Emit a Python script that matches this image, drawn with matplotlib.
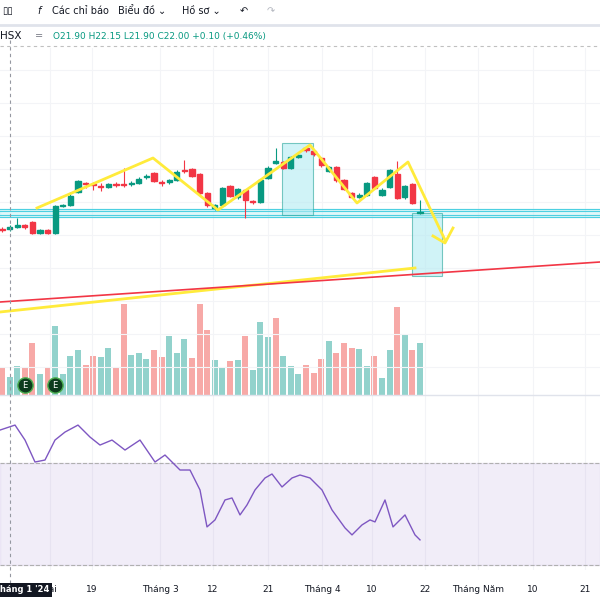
import matplotlib
matplotlib.use("Agg")
import matplotlib.pyplot as plt
from matplotlib.patches import Rectangle
import numpy as np

# candles: open, close, high, low (price)
def P(y): return round(22 + (213 - y) / 25, 2)
cand_px = [(229,230,227,232),(229,227,225,231),(227,225,218,228),(225,227,224,229),(222,233,221,234),
 (233,230,229,234),(230,233,229,234),(233,206,205,234),(206,205,204,207),(205,196,192,206),
 (192,181,180,193),(183,184,182,188),(184,185,182,190),(187,187,183,191),(187,184,183,188),
 (184,185,182,187),(184,185,168,187),(184,183,181,186),(183,179,177,184),(177,176,174,179),
 (173,181,172,182),(182,183,180,186),(182,180,179,184),(180,172,170,181),(171,171,160,173),
 (169,176,168,177),(174,193,173,194),(193,205,192,207),(208,205,204,210),(205,188,187,206),
 (186,196,185,197),(197,189,188,199),(190,200,189,218),(202,202,200,204),(202,180,179,203),
 (178,168,166,179),(163,161,148,164),(162,168,161,169),(168,157,156,169),(157,155,154,158),
 (148,150,147,152),(151,154,150,156),(158,165,157,167),(171,167,166,172),(167,180,166,182),
 (180,189,179,190),(193,197,192,198),(197,195,193,198),(195,183,182,196),(177,188,176,189),
 (195,190,188,196),(187,170,169,188),(174,198,161,199),(197,186,185,199),(184,203,183,204),
 (213,212,200,214)]
opens = [P(c[0]) for c in cand_px]; closes = [P(c[1]) for c in cand_px]
highs = [P(c[2]) for c in cand_px]; lows = [P(c[3]) for c in cand_px]

vol_top = [367,376,365,367,342,373,367,325,373,355,349,364,355,356,347,366,303,354,352,358,349,356,335,352,
 338,357,303,329,359,366,360,359,335,369,321,336,317,355,365,373,364,372,358,340,352,342,347,348,365,355,
 377,349,306,333,349,342]
volumes = [394 - t for t in vol_top]
vol_up = "rggrrgrggggrrggrrgggrrgggrrrggrgrgggrgggrrrgrrrggrggrgrg"

STEP = 7.6
rsi_px = [(0,430),(15,425),(25,440),(35,462),(45,460),(55,440),(65,432),(78,425),(90,437),(100,445),(112,440),
 (125,450),(140,440),(155,462),(165,455),(180,470),(190,470),(200,490),(207,527),(215,520),(225,500),(232,498),
 (240,515),(247,505),(255,490),(265,478),(272,474),(282,487),(292,478),(300,475),(310,478),(322,490),(332,510),
 (345,528),(352,535),(362,525),(370,520),(375,522),(385,500),(393,527),(405,515),(415,535),(420,540)]
rsi_x = [(p[0]-2)/STEP for p in rsi_px]; rsi_v = [70 - (p[1]-463)*0.392 for p in rsi_px]

yellow_pts = [(37,208),(153,158),(218,210),(310,145),(357,203),(408,162),(445,240)]
arrow_pts = [(433,236),(445,243),(453,228)]
yellow2 = [(0,312),(415,268)]
red_line = [(0,302),(600,262)]
tick_px = [(50,"Hai"),(92,"19"),(160,"Tháng 3"),(213,"12"),(268,"21"),(322,"Tháng 4"),(372,"10"),
 (425,"22"),(478,"Tháng Năm"),(533,"10"),(585,"21")]

X = lambda px: (px-2)/STEP
fig = plt.figure(figsize=(6,6), dpi=100)
W, H = 600, 600
def rect(top, bot): return [0, 1-bot/H, 1, (bot-top)/H]
ax = fig.add_axes(rect(48,395))
axv = ax.twinx()
axr = fig.add_axes(rect(395,570))
for a in (ax, axv, axr):
    a.set_xlim(X(0), X(600))
    a.axis("off")
ax.set_ylim(P(395), P(48))
axv.set_ylim(0, 347)
axr.set_ylim(28, 96.7)
green, red = "#089981", "#f23645"
for px, _ in tick_px:
    for a in (ax, axr): a.axvline(X(px), color="#f3f4f7", lw=0.8, zorder=0)
for yy in range(70, 395, 33):
    ax.axhline(P(yy), color="#f3f4f7", lw=0.8, zorder=0)
# volume
for i, v in enumerate(volumes):
    c = "#92d2cc" if vol_up[i] == "g" else "#f7a9a7"
    axv.bar(i, v, width=0.8, color=c, zorder=1)
axv.set_zorder(0); ax.set_zorder(1); ax.patch.set_visible(False)
# candles
for i in range(len(opens)):
    c = green if closes[i] > opens[i] else red
    ax.vlines(i, lows[i], highs[i], color=c, lw=0.8, zorder=3)
    lo, hi = min(opens[i], closes[i]), max(opens[i], closes[i])
    ax.add_patch(Rectangle((i-0.35, lo), 0.7, max(hi-lo, 0.04), color=c, zorder=3))
# zones
ax.axhspan(P(217), P(209), color="#b2ebf2", alpha=0.4, zorder=2)
for yy in (209, 211, 215, 217):
    ax.axhline(P(yy), color="#4dd0e1", lw=0.8, zorder=2)
for (x0,y0,x1,y1) in [(282,143,313,215),(412,213,442,276)]:
    ax.add_patch(Rectangle((X(x0), P(y1)), X(x1)-X(x0), P(y0)-P(y1), facecolor="#b2ebf2", alpha=0.6,
                           edgecolor="#26a69a", lw=0.8, zorder=2))
ax.plot([X(p[0]) for p in yellow_pts], [P(p[1]) for p in yellow_pts], color="#ffeb3b", lw=2, zorder=4)
ax.plot([X(p[0]) for p in arrow_pts], [P(p[1]) for p in arrow_pts], color="#ffeb3b", lw=2, zorder=4)
ax.plot([X(p[0]) for p in yellow2], [P(p[1]) for p in yellow2], color="#ffeb3b", lw=2, zorder=4)
ax.plot([X(p[0]) for p in red_line], [P(p[1]) for p in red_line], color="#f23645", lw=1.2, zorder=4)
# earnings markers
for px in (25, 55):
    ax.plot(X(px), P(385), "o", ms=11, mfc="#0d3b1e", mec="#4caf50", zorder=5)
    ax.text(X(px), P(385), "E", color="white", fontsize=6, ha="center", va="center", zorder=6)
# RSI
axr.axhspan(30, 70, color="#7e57c2", alpha=0.1)
for v in (30, 70): axr.axhline(v, color="#b0b0b0", lw=0.8, ls="--")
axr.plot(rsi_x, rsi_v, color="#7e57c2", lw=1)
fig.add_artist(plt.Line2D([0,1],[1-395/H]*2, color="#e0e3eb", lw=1))
fig.add_artist(plt.Line2D([10/W]*2,[1-590/H,1-40/H], color="#9598a1", lw=0.8, ls=(0,(3,3))))
fig.add_artist(plt.Line2D([0,1],[1-46/H]*2, color="#c0c0c0", lw=0.8, ls=(0,(3,3))))
# toolbar
fig.add_artist(plt.Line2D([0,1],[1-25/H]*2, color="#e0e3eb", lw=2))
fs = 7
for x, t in [(2,"▯▯"),(37,"f"),(52,"Các chỉ báo"),(118,"Biểu đồ ⌄"),(182,"Hồ sơ ⌄"),(240,"↶"),(267,"↷")]:
    fig.text(x/W, 1-11/H, t, fontsize=fs, color="#131722" if t!="↷" else "#b2b5be", va="center",
             style="italic" if t=="f" else "normal")
fig.text(0, 1-36/H, "HSX", fontsize=fs+0.5, va="center", color="#131722")
fig.text(35/W, 1-36/H, "=", fontsize=fs, va="center", color="#787b86")
fig.text(53/W, 1-36/H, "O21.90 H22.15 L21.90 C22.00 +0.10 (+0.46%)", fontsize=6.5, va="center", color="#089981")
for px, t in tick_px:
    fig.text(px/W, 1-590/H, t, fontsize=6.5, ha="center", va="center", color="#131722")
fig.text(-6/W, 1-590/H, "Tháng 1 '24", fontsize=6, va="center", color="white", weight="bold",
         bbox=dict(boxstyle="square,pad=0.3", fc="#131722", ec="none"))
fig.savefig("out.png", dpi=100)
